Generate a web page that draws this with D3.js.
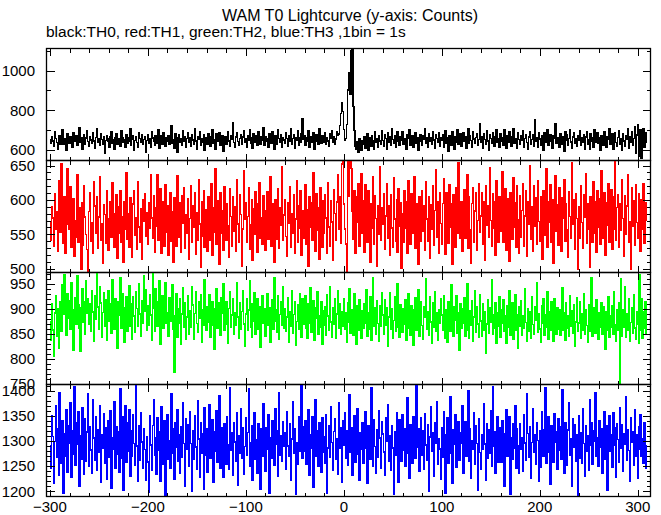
<!DOCTYPE html>
<html><head><meta charset="utf-8">
<script src="https://cdn.jsdelivr.net/npm/d3@7"></script>
<style>
body{margin:0;background:#fff}
svg{display:block}
text{font-family:"Liberation Sans",Arial,Helvetica,sans-serif;fill:#000}
</style>
</head><body><svg id="c" width="661" height="515"></svg>
<script>
const titleText = "WAM T0 Lightcurve (y-axis: Counts)";
const subtitleText = "black:TH0, red:TH1, green:TH2, blue:TH3 ,1bin = 1s";
const tStart = -300; // first bin time (s), 1 s bins

const th0 = [
652,631,668,645,619,690,657,638,603,661,673,628,649,701,626,655,640,598,679,647,
633,664,646,612,684,657,641,670,624,652,712,636,660,604,644,677,629,659,695,641,
618,667,650,634,687,644,609,662,705,639,656,622,681,651,630,665,583,647,673,654,
642,612,668,689,635,653,601,660,683,627,657,645,617,698,663,638,650,614,676,634,
661,644,708,624,652,673,596,647,668,636,615,686,656,640,678,626,651,666,590,646,
676,632,654,614,693,660,642,622,671,650,635,703,607,655,670,629,684,648,619,663,
644,673,627,657,722,634,649,610,680,661,588,647,674,638,654,623,694,641,665,613,
656,686,636,661,618,677,650,629,706,644,605,668,652,692,624,657,639,674,599,660,
647,627,682,657,616,665,699,634,651,604,679,644,660,688,622,652,671,594,648,667,
630,661,692,645,620,670,652,738,636,611,664,684,643,624,657,675,628,665,697,638,
655,614,673,647,702,632,659,607,682,651,640,671,621,689,657,627,664,646,711,624,
668,641,654,611,681,661,631,693,646,601,673,653,626,699,658,637,678,615,663,649,
635,686,657,618,669,643,707,628,656,674,609,662,648,694,622,660,640,680,755,654,
672,624,659,643,697,614,666,651,636,686,603,657,675,645,626,704,658,633,669,638,
652,684,630,660,645,620,679,659,696,639,668,626,655,691,673,680,722,782,838,792,
702,650,658,728,902,962,988,882,1098,1135,818,698,620,602,640,588,657,616,598,646,
626,667,607,650,681,596,641,660,619,673,647,605,692,636,656,613,670,644,630,697,
646,616,677,658,601,686,638,664,622,704,652,632,671,611,659,689,641,621,666,649,
691,629,657,639,605,677,660,700,624,647,669,614,655,684,634,663,597,650,675,642,
624,669,651,705,633,659,611,680,644,663,627,693,650,608,676,656,638,684,617,661,
646,676,612,656,695,635,662,593,672,653,623,690,645,603,668,640,701,628,659,679,
618,650,685,641,667,606,657,706,632,673,647,614,693,654,634,662,683,621,651,730,
639,664,610,679,652,626,694,645,600,674,658,632,686,649,619,668,699,640,655,612,
680,645,662,622,702,650,606,672,637,689,655,616,667,708,634,658,643,609,684,653,
628,670,646,695,614,658,678,638,603,664,692,630,652,674,620,752,642,661,611,685,
655,625,673,647,599,687,662,636,701,621,653,677,641,609,669,657,733,631,663,644,
614,682,651,630,667,594,691,648,675,623,656,699,639,607,664,684,634,654,618,672,
647,696,621,659,640,677,605,665,690,626,652,601,680,645,662,615,703,636,657,687,
632,663,597,673,650,621,693,644,612,668,653,705,626,659,679,603,646,686,638,619,
662,697,630,655,599,681,645,617,670,651,708,610,664,639,690,622,657,716,582,675,
725,568,646,702,558,655,706,612,684,638
];

const th1 = [
568,541,590,574,533,609,558,583,526,597,628,553,652,573,537,605,522,564,646,585,
557,619,531,578,602,518,570,546,637,538,588,561,500,596,534,620,575,550,528,497,
583,611,540,567,522,627,591,551,604,530,575,633,542,565,508,593,579,537,613,555,
527,572,598,546,625,580,532,563,607,516,590,551,614,539,575,510,597,558,640,543,
580,531,603,558,517,594,614,549,574,528,626,561,538,587,514,601,569,609,547,581,
536,596,559,637,574,545,606,524,589,562,637,541,580,616,522,570,598,533,622,553,
591,520,568,610,540,583,509,603,559,533,635,575,546,596,524,606,566,618,530,579,
552,602,514,573,620,538,591,561,610,521,581,542,630,565,502,597,547,614,531,586,
561,526,604,577,541,624,520,588,553,645,536,599,568,507,611,551,584,527,619,565,
542,595,563,517,616,576,533,604,554,590,525,629,565,538,607,579,503,558,643,572,
596,538,576,618,528,564,601,512,587,550,612,568,524,594,625,545,574,535,606,558,
527,585,612,543,569,634,533,594,559,509,601,575,543,616,530,588,563,648,541,578,
601,547,518,596,566,619,531,580,552,608,522,572,628,539,592,559,613,520,585,544,
570,622,535,586,504,604,561,596,542,640,576,526,609,556,589,514,618,566,532,599,
551,608,574,522,625,561,533,599,568,512,615,580,541,597,637,558,604,537,652,672,
594,558,536,491,668,605,674,666,646,583,543,613,522,604,568,624,533,590,638,552,
599,524,622,567,538,613,577,510,595,559,633,535,606,573,504,592,550,648,541,588,
565,609,529,577,624,544,591,519,607,559,532,632,572,540,601,524,616,562,596,501,
580,538,613,559,598,522,628,567,535,609,551,587,634,530,594,562,506,605,574,540,
614,554,591,527,626,572,540,605,516,593,558,621,534,585,644,546,597,523,611,566,
535,595,631,553,521,610,572,537,622,561,594,507,608,570,531,618,552,654,586,544,
598,525,581,615,544,567,636,530,604,557,508,595,617,539,584,611,527,570,624,553,
577,611,536,598,512,621,563,592,546,647,570,533,609,559,597,519,628,576,538,604,
554,593,641,539,574,616,527,602,565,511,610,575,543,632,560,596,532,621,571,522,
606,546,585,624,533,577,614,518,598,565,650,543,590,526,621,562,603,536,628,569,
540,604,563,514,613,579,548,645,532,597,567,622,538,601,508,576,635,555,593,534,
617,565,525,603,573,630,540,594,557,517,612,576,545,654,564,600,529,609,573,500,
590,544,621,567,530,607,575,638,537,594,558,502,604,570,539,627,552,597,524,613,
561,602,535,643,571,545,611,520,596,563,624,539,584,615,528,604,558,655,542,589,
607,531,594,556,629,573,518,606,550,591,637,538,569,500,617,562,599,534,622,567,
544,609,574,526,600,558,624,537,596,570
];

const th2 = [
874,838,910,858,806,892,926,845,900,822,879,915,856,948,889,968,904,848,930,882,
916,859,952,898,818,889,923,869,966,908,861,815,902,940,874,914,849,957,892,921,
870,911,855,937,894,836,926,879,970,904,860,944,912,844,893,932,866,918,838,898,
937,876,910,852,958,897,859,920,870,822,914,887,962,861,930,902,834,880,924,855,
898,947,866,911,840,925,886,853,935,901,866,950,890,846,917,872,966,895,939,858,
906,868,929,888,838,971,901,856,941,914,865,892,957,829,903,926,862,884,952,871,
893,846,922,876,909,949,860,773,887,931,844,901,871,920,830,890,943,864,912,840,
884,926,850,897,863,945,908,839,891,934,871,853,915,881,929,834,899,867,958,891,
858,905,873,928,843,888,915,867,820,901,940,861,885,912,848,922,891,951,858,897,
915,869,831,901,935,863,888,921,850,893,867,953,884,842,912,860,895,937,870,826,
890,921,857,898,957,864,843,910,876,933,850,891,920,859,905,823,884,926,872,901,
846,892,930,867,903,833,886,918,860,962,876,899,854,927,839,889,914,867,945,861,
901,855,884,922,834,894,866,937,851,889,915,827,875,908,859,931,886,844,920,869,
892,926,862,841,910,871,943,853,892,917,837,881,903,934,850,887,864,915,829,897,
867,905,847,929,886,858,945,874,843,902,869,921,841,890,936,861,911,850,894,866,
920,859,893,834,913,874,941,852,899,885,848,930,871,830,906,857,919,883,842,897,
862,911,872,938,845,893,860,925,838,885,962,866,903,850,916,871,835,907,866,932,
888,849,918,868,903,826,884,932,860,900,841,877,925,855,893,951,864,843,909,876,
853,901,869,919,837,891,930,862,847,906,871,828,898,922,858,889,938,846,882,914,
867,840,904,884,961,860,894,847,924,874,832,912,864,935,855,893,837,898,871,920,
888,858,927,842,898,870,834,915,882,855,948,866,845,905,877,926,851,893,818,911,
861,901,872,922,846,889,950,858,841,897,867,917,836,884,937,853,905,870,843,928,
876,845,910,858,894,812,870,918,852,902,874,958,850,889,862,913,832,892,866,924,
844,898,871,919,855,887,832,906,864,936,848,891,912,839,872,928,858,889,822,905,
866,917,847,886,861,941,873,836,901,856,894,842,924,869,849,905,877,952,853,890,
860,833,907,872,921,848,889,864,935,840,894,857,914,875,835,920,868,850,903,859,
898,848,869,942,857,892,838,912,861,886,845,927,866,897,851,908,826,874,922,855,
872,914,842,891,858,931,850,899,867,833,908,856,889,962,846,873,903,852,918,864,
839,893,864,913,850,904,871,820,894,857,925,843,886,863,907,849,935,868,835,898,
858,912,752,960,846,899,863,945,844,891,858,920,836,873,903,852,929,862,840,895,
869,832,969,857,921,842,894,862,915,851
];

const th3 = [
1290,1245,1350,1309,1215,1299,1370,1268,1325,1232,1396,1303,1256,1339,1195,1315,1270,1361,1237,1331,
1295,1376,1228,1321,1274,1408,1251,1336,1293,1357,1210,1311,1263,1365,1287,1233,1344,1259,1318,1393,
1250,1329,1282,1235,1382,1306,1262,1347,1241,1323,1277,1369,1217,1313,1286,1353,1256,1326,1224,1295,
1340,1268,1359,1205,1306,1284,1378,1245,1329,1274,1318,1238,1404,1266,1347,1201,1293,1370,1258,1336,
1280,1361,1229,1321,1270,1352,1295,1251,1409,1290,1220,1331,1262,1356,1298,1246,1325,1283,1221,1309,
1258,1197,1349,1292,1242,1331,1382,1271,1307,1234,1346,1281,1319,1219,1368,1295,1254,1339,1192,1314,
1351,1264,1301,1246,1394,1325,1275,1224,1336,1288,1362,1259,1313,1236,1328,1268,1375,1295,1209,1343,
1284,1333,1250,1358,1295,1199,1321,1263,1350,1288,1243,1380,1304,1228,1336,1276,1314,1204,1365,1272,
1324,1238,1303,1371,1266,1294,1341,1218,1319,1280,1359,1257,1297,1390,1245,1326,1286,1227,1334,1306,
1254,1348,1292,1243,1405,1281,1316,1231,1337,1298,1259,1355,1211,1310,1276,1363,1265,1326,1234,1289,
1345,1272,1317,1404,1249,1297,1330,1221,1285,1356,1264,1303,1235,1334,1291,1204,1325,1269,1373,1296,
1240,1326,1284,1351,1195,1306,1265,1340,1280,1251,1364,1294,1320,1230,1396,1272,1310,1260,1338,1290,
1316,1244,1357,1290,1269,1334,1222,1304,1378,1275,1324,1194,1297,1253,1348,1309,1280,1410,1266,1328,
1280,1339,1253,1301,1361,1231,1313,1285,1347,1208,1293,1381,1270,1321,1249,1336,1300,1237,1346,1277,
1309,1255,1352,1196,1286,1330,1268,1367,1297,1242,1319,1344,1263,1304,1234,1375,1286,1326,1217,1340,
1292,1356,1265,1321,1252,1299,1392,1277,1327,1231,1311,1349,1258,1294,1364,1273,1221,1316,1284,1337,
1256,1313,1357,1286,1216,1330,1297,1264,1406,1302,1249,1342,1289,1235,1322,1268,1360,1306,1246,1338,
1314,1278,1231,1346,1299,1371,1260,1310,1241,1330,1286,1193,1318,1272,1355,1293,1217,1341,1304,1259,
1352,1282,1324,1250,1303,1386,1275,1225,1333,1295,1255,1348,1309,1265,1410,1288,1325,1239,1297,1345,
1271,1320,1244,1354,1292,1261,1332,1200,1308,1367,1279,1316,1230,1336,1295,1377,1253,1304,1284,1223,
1327,1267,1358,1290,1196,1313,1346,1255,1297,1388,1276,1216,1323,1293,1351,1248,1306,1338,1262,1317,
1296,1369,1236,1303,1338,1269,1315,1399,1259,1325,1226,1301,1283,1355,1253,1330,1295,1202,1344,1277,
1244,1312,1284,1373,1294,1222,1335,1265,1322,1276,1359,1250,1407,1289,1319,1235,1304,1347,1258,1326,
1300,1257,1340,1281,1210,1314,1362,1270,1296,1348,1193,1306,1263,1334,1286,1370,1246,1324,1290,1235,
1335,1284,1307,1240,1351,1296,1261,1393,1315,1267,1328,1226,1297,1363,1278,1313,1254,1337,1301,1220,
1320,1248,1357,1291,1269,1323,1406,1256,1303,1348,1277,1214,1331,1290,1257,1354,1297,1318,1243,1344,
1281,1328,1264,1401,1299,1235,1337,1309,1251,1322,1376,1271,1305,1209,1343,1287,1332,1260,1313,1192,
1350,1266,1316,1256,1364,1295,1229,1330,1280,1310,1241,1381,1292,1336,1253,1320,1299,1395,1269,1306,
1249,1339,1287,1324,1236,1305,1358,1264,1331,1202,1296,1349,1279,1312,1247,1355,1291,1326,1228,1334,
1303,1257,1366,1285,1332,1240,1314,1294,1387,1261,1322,1281,1220,1345,1297,1318,1252,1361,1270,1312,
1225,1328,1283,1352,1270,1304,1255,1337,1290,1246
];

const series = [th0, th1, th2, th3];
const seriesColors = ["#000000", "#ff0000", "#00ff00", "#0000ff"];
const xDomain = [-303.5, 313];
const xMajorTicks = [-300, -200, -100, 0, 100, 200, 300];
const xMinorStep = 20;
const yDomains = [[546, 1111], [494.6, 657.3], [748.6, 972.6], [1189.5, 1412]];
const yTickLabels = [[600, 800, 1000], [500, 550, 600, 650], [750, 800, 850, 900, 950], [1200, 1250, 1300, 1350, 1400]];
const yMajorStep = [200, 50, 50, 50];
const yMinorStep = [100, 10, 10, 10];

const svg = d3.select("#c");
const L = 46.5, R = 650.5, T = 48.5, H = 112;
const FS = 15;
const x = d3.scaleLinear().domain(xDomain).range([L, R]);

svg.append("text").attr("x", 350).attr("y", 21).attr("text-anchor", "middle")
  .style("font-size", "16px").text(titleText);
svg.append("text").attr("x", 46).attr("y", 37)
  .style("font-size", "15.5px").text(subtitleText);

const defs = svg.append("defs");

series.forEach((vals, i) => {
  const top = T + H * i, bot = T + H * (i + 1);
  const y = d3.scaleLinear().domain(yDomains[i]).range([bot, top]);
  const g = svg.append("g");
  defs.append("clipPath").attr("id", "clip" + i)
    .append("rect").attr("x", L).attr("y", top).attr("width", R - L).attr("height", H);

  const line = d3.line()
    .x((d, j) => x(tStart + j))
    .y(d => y(d))
    .curve(d3.curveStep);
  g.append("path").datum(vals)
    .attr("clip-path", "url(#clip" + i + ")")
    .attr("d", line)
    .attr("fill", "none")
    .attr("stroke", seriesColors[i])
    .attr("stroke-width", 1.5)
    .attr("shape-rendering", "crispEdges");

  g.append("rect").attr("x", L).attr("y", top).attr("width", R - L).attr("height", H)
    .attr("fill", "none").attr("stroke", "#000").attr("stroke-width", 1.3);

  const tk = g.append("g").attr("stroke", "#000").attr("stroke-width", 1).attr("shape-rendering", "crispEdges");
  const xMinor = d3.range(-300, 301, xMinorStep);
  xMinor.forEach(v => {
    const len = xMajorTicks.includes(v) ? 7 : 4;
    const px = Math.round(x(v)) + 0.5;
    tk.append("line").attr("x1", px).attr("x2", px).attr("y1", bot).attr("y2", bot - len);
    tk.append("line").attr("x1", px).attr("x2", px).attr("y1", top).attr("y2", top + len);
  });
  const [d0, d1] = yDomains[i];
  const yMinor = d3.range(Math.ceil(d0 / yMinorStep[i]) * yMinorStep[i], d1, yMinorStep[i]);
  yMinor.forEach(v => {
    const len = (v % yMajorStep[i] === 0) ? 8 : 4;
    const py = Math.round(y(v)) + 0.5;
    tk.append("line").attr("x1", L).attr("x2", L + len).attr("y1", py).attr("y2", py);
    tk.append("line").attr("x1", R).attr("x2", R - len).attr("y1", py).attr("y2", py);
  });
  yTickLabels[i].forEach(v => {
    svg.append("text").attr("x", 35).attr("y", y(v)).attr("dy", "0.36em")
      .attr("text-anchor", "end").style("font-size", FS + "px").text(v);
  });
});

const fmt = d3.format("d");
xMajorTicks.forEach(v => {
  svg.append("text").attr("x", x(v)).attr("y", 512).attr("text-anchor", "middle")
    .style("font-size", FS + "px").text(fmt(v));
});
</script>
</body></html>
